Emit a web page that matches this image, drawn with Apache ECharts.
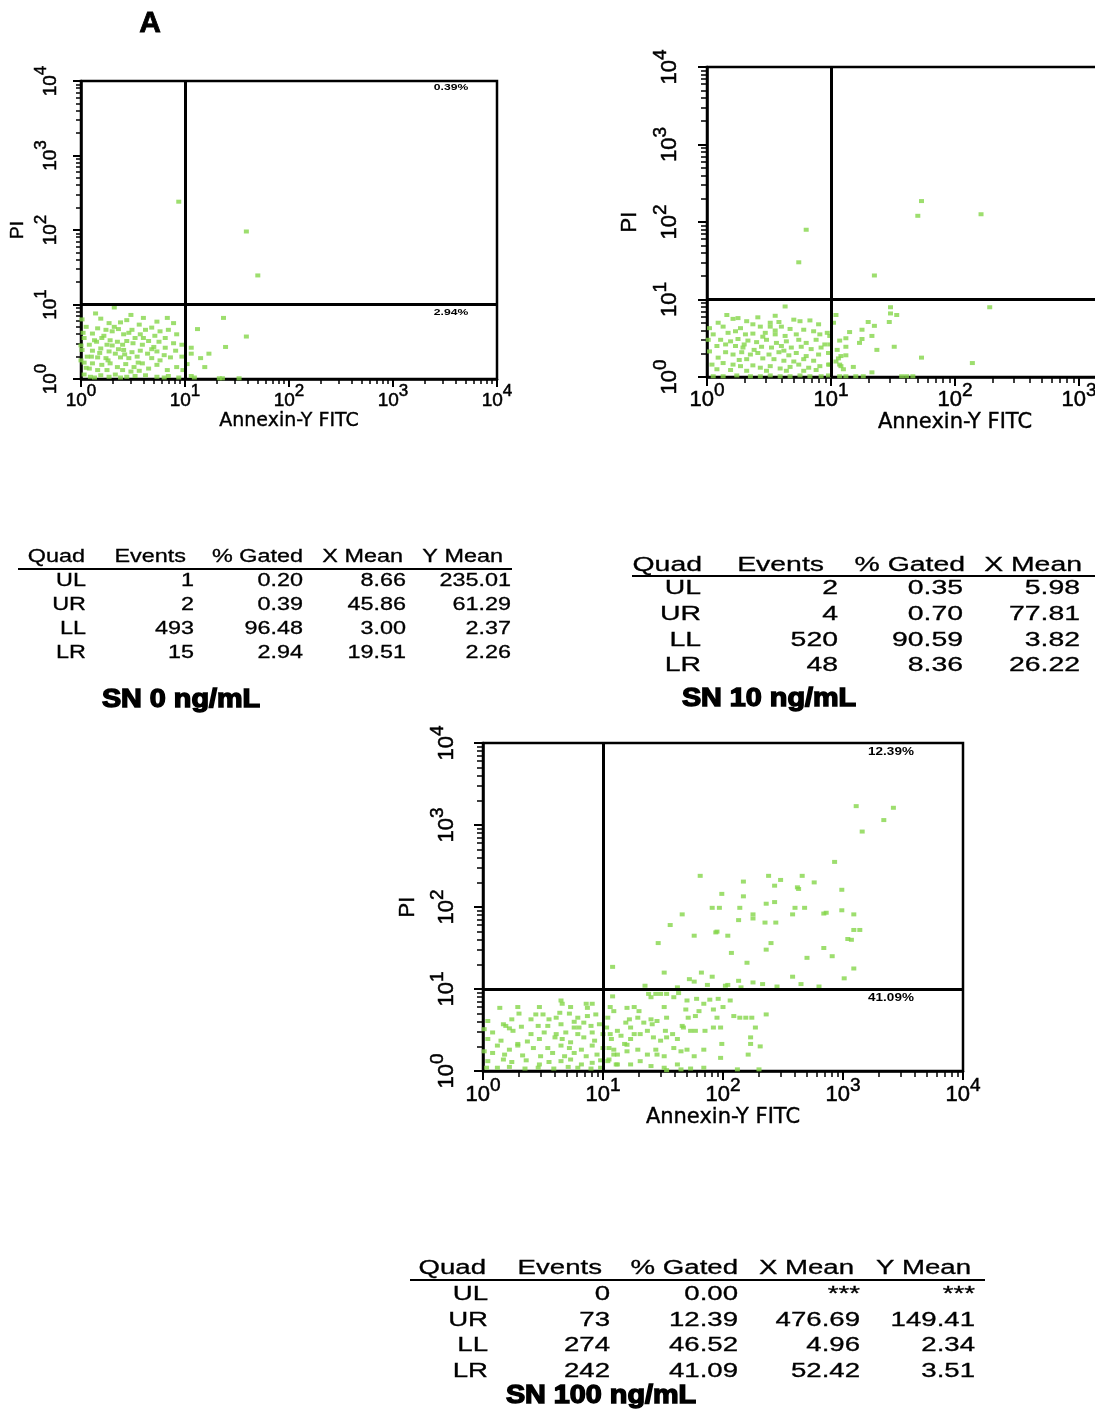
<!DOCTYPE html>
<html><head><meta charset="utf-8">
<script src="https://cdn.jsdelivr.net/npm/echarts@6/dist/echarts.min.js"></script>
<style>html,body{margin:0;padding:0;background:#fff}#c{width:1095px;height:1410px}</style>
</head><body><div id="c"></div>
<script>
// ---- DATA: every point is [log10 Annexin-V FITC, log10 PI] (decades) ----
const sn0_UL = [[0.94,2.38]];
const sn0_UR = [[1.59,1.98],[1.70,1.39]];
const sn0_LR = [[1.37,0.82],[1.12,0.67],[1.59,0.57],[1.39,0.43],[1.23,0.34],[1.15,0.28],[1.19,0.16],[1.06,0.42],[1.06,0.34],[1.33,0.01],[1.36,0.01],[1.52,0.01],[1.06,0.04],[1.09,0.02],[1.02,0.20]];
const sn0_LL = [[0.32,0.96],[0.14,0.88],[0.48,0.86],[0.83,0.82],[0.19,0.81],[0.44,0.79],[0.60,0.82],[0.27,0.75],[0.38,0.76],[0.73,0.77],[0.89,0.75],[0.56,0.73],
[0.05,0.70],[0.16,0.68],[0.24,0.66],[0.30,0.64],[0.36,0.67],[0.49,0.66],[0.62,0.66],[0.68,0.69],[0.76,0.64],[0.84,0.66],[0.92,0.60],[0.11,0.61],[0.41,0.60],[0.57,0.60],[0.71,0.58],
[0.03,0.55],[0.13,0.52],[0.20,0.55],[0.28,0.52],[0.35,0.50],[0.44,0.51],[0.52,0.55],[0.65,0.51],[0.75,0.50],[0.81,0.55],[0.89,0.48],[0.97,0.46],[0.08,0.46],[0.25,0.46],[0.40,0.46],[0.59,0.46],[0.70,0.43],[0.81,0.42],
[0.01,0.39],[0.11,0.38],[0.19,0.41],[0.27,0.37],[0.33,0.34],[0.41,0.39],[0.49,0.36],[0.57,0.38],[0.64,0.34],[0.73,0.37],[0.80,0.32],[0.91,0.38],[0.06,0.30],[0.16,0.29],[0.24,0.28],[0.38,0.29],[0.46,0.28],[0.54,0.30],[0.68,0.28],[0.76,0.25],[0.86,0.29],
[0.03,0.22],[0.11,0.21],[0.20,0.19],[0.28,0.21],[0.35,0.16],[0.43,0.20],[0.51,0.16],[0.59,0.21],[0.65,0.14],[0.73,0.19],[0.83,0.12],[0.92,0.16],[0.08,0.14],[0.16,0.12],[0.25,0.12],[0.40,0.12],[0.48,0.10],[0.56,0.11],
[0.03,0.06],[0.09,0.03],[0.19,0.05],[0.27,0.03],[0.33,0.06],[0.44,0.03],[0.52,0.04],[0.62,0.05],[0.73,0.03],[0.84,0.04],[0.94,0.02],[0.13,0.02],[0.38,0.02],[0.80,0.02],
[0.22,0.58],[0.30,0.45],[0.18,0.35],[0.36,0.40],[0.50,0.48],[0.60,0.55],[0.26,0.25],[0.42,0.33],[0.10,0.30],[0.55,0.22],[0.68,0.40],[0.15,0.50],[0.32,0.70],[0.46,0.62],[0.05,0.15],[0.02,0.62],[0.00,0.45],[0.00,0.25],[0.01,0.80],[0.98,0.12],[0.97,0.30]];

const sn10_UL = [[0.80,1.90],[0.74,1.48]];
const sn10_UR = [[1.73,2.27],[1.70,2.08],[2.21,2.10],[1.35,1.31]];
const sn10_LR = [[1.48,0.90],[1.48,0.82],[1.53,0.80],[1.47,0.71],[1.30,0.71],[1.35,0.66],[1.04,0.80],[1.25,0.61],[1.33,0.53],[1.25,0.49],[1.12,0.50],[1.07,0.47],[1.23,0.44],[1.12,0.39],[1.51,0.39],[1.37,0.35],[1.12,0.28],[1.08,0.27],[1.06,0.24],[1.04,0.20],[1.08,0.14],[1.18,0.13],[1.07,0.16],[1.73,0.25],[2.14,0.18],[2.28,0.90],[1.33,0.06],[1.07,0.01],[1.12,0.01],[1.20,0.01],[1.26,0.01],[1.57,0.01],[1.61,0.01],[1.66,0.01],[0.99,0.53],[0.99,0.42],[0.99,0.16],[1.02,0.70],[1.15,0.58],[1.05,0.35],[1.10,0.10]];
const sn10_LL = [[0.63,0.91],[0.16,0.80],[0.41,0.77],[0.55,0.79],[0.21,0.75],[0.25,0.76],[0.32,0.72],[0.70,0.74],[0.75,0.72],[0.83,0.73],[0.09,0.70],[0.51,0.70],[0.58,0.71],[0.37,0.68],[0.90,0.68],
[0.02,0.63],[0.13,0.65],[0.27,0.63],[0.43,0.65],[0.51,0.65],[0.60,0.65],[0.67,0.62],[0.78,0.61],[0.86,0.59],[0.05,0.55],[0.17,0.57],[0.23,0.59],[0.31,0.55],[0.37,0.56],[0.47,0.57],[0.55,0.55],[0.63,0.53],[0.72,0.55],[0.91,0.55],[0.97,0.57],
[0.01,0.48],[0.11,0.48],[0.19,0.46],[0.25,0.49],[0.33,0.47],[0.40,0.45],[0.48,0.48],[0.56,0.44],[0.64,0.46],[0.74,0.48],[0.80,0.44],[0.88,0.48],[0.95,0.42],[0.08,0.40],[0.23,0.40],[0.29,0.38],[0.44,0.39],[0.52,0.38],[0.60,0.40],[0.68,0.38],[0.76,0.39],[0.84,0.36],[0.92,0.38],
[0.02,0.33],[0.15,0.32],[0.21,0.29],[0.28,0.32],[0.35,0.29],[0.41,0.31],[0.50,0.29],[0.58,0.32],[0.66,0.28],[0.72,0.31],[0.80,0.27],[0.90,0.29],[0.98,0.31],[0.09,0.25],[0.32,0.23],[0.45,0.24],[0.54,0.23],[0.62,0.21],[0.78,0.23],[0.86,0.21],
[0.04,0.16],[0.13,0.18],[0.21,0.16],[0.27,0.14],[0.37,0.15],[0.43,0.12],[0.51,0.14],[0.59,0.11],[0.67,0.13],[0.74,0.16],[0.82,0.12],[0.91,0.14],[0.98,0.16],[0.08,0.10],[0.19,0.09],[0.32,0.08],[0.48,0.08],[0.64,0.08],[0.78,0.08],[0.88,0.09],
[0.05,0.01],[0.13,0.01],[0.24,0.02],[0.35,0.01],[0.43,0.01],[0.51,0.02],[0.59,0.01],[0.67,0.01],[0.75,0.02],[0.83,0.01],[0.92,0.01],[0.98,0.02],
[0.30,0.42],[0.45,0.52],[0.38,0.35],[0.55,0.60],[0.26,0.22],[0.70,0.20],[0.15,0.42],[0.62,0.34]];

const sn100_UL = [];
const sn100_UR = [[3.11,3.23],[3.42,3.21],[3.34,3.06],[3.16,2.92],[2.93,2.55],[1.81,2.38],[2.38,2.38],[2.66,2.38],[2.48,2.33],[2.17,2.31],[2.76,2.30],[2.43,2.26],[2.62,2.24],[2.63,2.22],[2.99,2.21],[1.99,2.16],[2.17,2.13],[2.36,2.04],[2.43,2.06],[1.91,1.99],[1.97,1.99],[2.14,1.99],[2.60,1.99],[2.68,1.99],[2.99,1.96],[2.86,1.93],[2.84,1.92],[3.09,1.91],[2.25,1.91],[2.25,1.86],[2.58,1.91],[1.66,1.91],[2.13,1.84],[2.35,1.81],[2.44,1.81],[1.56,1.78],[1.95,1.70],[1.94,1.69],[3.09,1.72],[3.14,1.72],[1.76,1.65],[2.04,1.65],[3.04,1.61],[3.07,1.60],[1.46,1.56],[2.40,1.56],[2.84,1.50],[2.36,1.48],[2.07,1.44],[2.91,1.40],[2.70,1.38],[2.20,1.32],[1.08,1.27],[1.51,1.20],[1.82,1.20],[1.91,1.15],[2.58,1.15],[3.09,1.25],[3.01,1.13],[1.76,1.09],[2.13,1.10],[2.25,1.08],[1.87,1.05],[2.02,1.04],[2.04,1.05],[2.33,1.06],
[1.62,1.02],[2.45,1.03],[1.72,1.12],[2.80,1.03],[2.15,1.02],[1.35,1.04],[2.65,1.06]];
const sn100_LR = [[1.08,0.91],[1.06,0.78],[1.09,0.73],[1.04,0.65],[1.03,0.53],[1.06,0.45],[1.07,0.39],[1.05,0.28],[1.09,0.20],[1.04,0.12],[1.11,0.08],
[1.20,0.77],[1.26,0.78],[1.30,0.73],[1.22,0.63],[1.19,0.59],[1.23,0.53],[1.29,0.65],[1.34,0.59],[1.40,0.63],[1.41,0.57],[1.45,0.61],
[1.51,0.78],[1.53,0.65],[1.52,0.49],[1.59,0.90],[1.63,0.95],[1.70,0.86],[1.69,0.75],[1.71,0.65],[1.78,0.88],[1.80,0.73],[1.77,0.67],
[1.84,0.82],[1.89,0.87],[1.92,0.75],[1.96,0.88],[1.95,0.65],[1.98,0.53],[2.00,0.78],[2.06,0.86],[2.09,0.67],[2.14,0.65],[2.19,0.65],[2.24,0.65],[2.27,0.53],[2.23,0.41],[2.31,0.30],[2.36,0.69],
[1.12,0.49],[1.15,0.43],[1.18,0.33],[1.20,0.32],[1.23,0.39],[1.26,0.45],[1.31,0.45],[1.37,0.49],[1.42,0.41],[1.48,0.37],[1.53,0.41],[1.58,0.45],[1.62,0.39],[1.66,0.55],[1.67,0.53],[1.73,0.49],[1.77,0.49],[1.85,0.49],[1.92,0.53],[1.99,0.33],
[1.09,0.26],[1.12,0.20],[1.20,0.24],[1.29,0.26],[1.37,0.20],[1.44,0.26],[1.45,0.20],[1.51,0.18],[1.59,0.28],[1.65,0.24],[1.70,0.26],[1.76,0.18],[1.84,0.26],[1.98,0.16],[2.21,0.20],[2.23,0.33],
[1.05,0.14],[1.12,0.08],[1.23,0.08],[1.31,0.12],[1.40,0.06],[1.51,0.04],[1.62,0.08],[1.73,0.03],[1.84,0.04],[2.12,0.02],[2.30,0.02],[1.65,0.02],[1.53,0.01],
[1.38,0.94],[1.44,0.94],[1.48,0.94],[1.53,0.94],[1.40,0.90]];
const sn100_LL = [[0.65,0.86],[0.66,0.82],[0.14,0.77],[0.29,0.78],[0.47,0.78],[0.86,0.82],[0.91,0.82],[0.73,0.78],[0.87,0.77],[0.64,0.71],[0.72,0.70],[0.30,0.70],[0.44,0.69],[0.50,0.69],[0.79,0.65],[0.87,0.67],[0.94,0.69],[0.24,0.63],[0.40,0.63],[0.55,0.63],[0.61,0.65],[0.04,0.61],[0.76,0.60],[0.84,0.59],[0.17,0.57],[0.19,0.55],[0.22,0.52],[0.32,0.54],[0.46,0.55],[0.54,0.55],[0.65,0.57],[0.76,0.53],[0.80,0.53],[0.90,0.55],[0.97,0.57],[0.01,0.51],[0.08,0.47],[0.25,0.49],[0.40,0.45],[0.51,0.47],[0.61,0.45],[0.69,0.47],[0.79,0.45],[0.91,0.47],[1.00,0.45],[0.04,0.39],[0.15,0.37],[0.29,0.33],[0.37,0.36],[0.47,0.39],[0.60,0.41],[0.66,0.39],[0.73,0.35],[0.84,0.41],[0.93,0.37],[0.29,0.31],[0.12,0.31],[0.22,0.26],[0.42,0.28],[0.54,0.28],[0.65,0.31],[0.72,0.28],[0.82,0.26],[0.91,0.31],[1.00,0.28],[0.01,0.24],[0.08,0.22],[0.18,0.20],[0.33,0.19],[0.48,0.18],[0.58,0.22],[0.68,0.18],[0.76,0.22],[0.86,0.18],[0.95,0.20],[0.04,0.12],[0.17,0.14],[0.24,0.11],[0.36,0.13],[0.47,0.08],[0.55,0.11],[0.65,0.12],[0.73,0.14],[0.82,0.08],[0.91,0.10],[0.98,0.13],[0.03,0.04],[0.12,0.04],[0.22,0.05],[0.35,0.03],[0.46,0.04],[0.59,0.03],[0.71,0.05],[0.79,0.04],[0.90,0.03],[0.98,0.04]];

// gate position (log10) and axis decades
const GATE_LOG = 1;
const DECADES = [0, 1, 2, 3, 4];
const X_TITLE = 'Annexin-Y FITC';
const Y_TITLE = 'PI';

// tables
const tableHeader = ['Quad', 'Events', '% Gated', 'X Mean', 'Y Mean'];
const quadrants = ['UL', 'UR', 'LL', 'LR'];
const sn0Events = ['1', '2', '493', '15'];
const sn0Gated = ['0.20', '0.39', '96.48', '2.94'];
const sn0XMean = ['8.66', '45.86', '3.00', '19.51'];
const sn0YMean = ['235.01', '61.29', '2.37', '2.26'];
const sn10Events = ['2', '4', '520', '48'];
const sn10Gated = ['0.35', '0.70', '90.59', '8.36'];
const sn10XMean = ['5.98', '77.81', '3.82', '26.22'];
const sn100Events = ['0', '73', '274', '242'];
const sn100Gated = ['0.00', '12.39', '46.52', '41.09'];
const sn100XMean = ['***', '476.69', '4.96', '52.42'];
const sn100YMean = ['***', '149.41', '2.34', '3.51'];
const panelTitles = ['SN 0 ng/mL', 'SN 10 ng/mL', 'SN 100 ng/mL'];
const figureLetter = 'A';

// ---- rendering ----
const FONT = "'Liberation Sans', Arial, sans-serif";
const GREEN = '#84d64a';
const MINOR = [];
for (let d = 0; d < 4; d++) for (let k = 2; k <= 9; k++) MINOR.push(d + Math.log10(k));

const panels = [
  { grid: {left: 81, top: 81, width: 416, height: 298},
    pts: [].concat(sn0_LL, sn0_LR, sn0_UL, sn0_UR),
    lab: 19, exp: 17, xMargin: 4, yMargin: 21, nameFont: 19, xNameGap: 27, yNameGap: 54, tickLen: 8, minorLen: 5 },
  { grid: {left: 707, top: 67, width: 496, height: 310},
    pts: [].concat(sn10_LL, sn10_LR, sn10_UL, sn10_UR),
    lab: 22, exp: 19, xMargin: 4, yMargin: 26, nameFont: 21, xNameGap: 29, yNameGap: 66, tickLen: 9, minorLen: 6 },
  { grid: {left: 483, top: 743, width: 480, height: 328},
    pts: [].concat(sn100_LL, sn100_LR, sn100_UL, sn100_UR),
    lab: 22, exp: 19, xMargin: 5, yMargin: 25, nameFont: 21, xNameGap: 31, yNameGap: 64, tickLen: 9, minorLen: 6 }
];

const grids = [], xAxes = [], yAxes = [], series = [];
panels.forEach((p, gi) => {
  grids.push(Object.assign({show: true, borderColor: '#000', borderWidth: 2.5, backgroundColor: 'transparent',
    containLabel: false, outerBoundsMode: 'none'}, p.grid));
  const rich = {
    b: {fontSize: p.lab, fontFamily: FONT, color: '#000', verticalAlign: 'bottom', lineHeight: p.lab + 8,
        textBorderColor: '#000', textBorderWidth: 0.5},
    e: {fontSize: p.exp, fontFamily: FONT, color: '#000', verticalAlign: 'top', lineHeight: p.lab + 8,
        textBorderColor: '#000', textBorderWidth: 0.5}
  };
  ['x', 'y'].forEach(dim => {
    const isX = dim === 'x';
    const primary = {
      type: 'value', gridIndex: gi, min: 0, max: 4, interval: 1,
      position: isX ? 'bottom' : 'left',
      axisLine: {show: true, onZero: false, lineStyle: {color: '#000', width: 2.5}},
      axisTick: {show: true, length: p.tickLen, lineStyle: {color: '#000', width: 2}},
      splitLine: {show: false},
      axisLabel: {margin: isX ? p.xMargin : p.yMargin, rotate: isX ? 0 : 90,
        formatter: v => '{b|10}{e|' + DECADES[Math.round(v)] + '}', rich: rich},
      name: isX ? X_TITLE : Y_TITLE, nameLocation: 'middle',
      nameGap: isX ? p.xNameGap : p.yNameGap,
      nameTextStyle: isX ? {fontSize: p.nameFont, fontFamily: "'DejaVu Sans', sans-serif", color: '#000', textBorderColor: '#000', textBorderWidth: 0.4}
                         : {fontSize: p.lab, fontFamily: FONT, color: '#000', textBorderColor: '#000', textBorderWidth: 0.4}
    };
    const minor = {
      type: 'value', gridIndex: gi, min: 0, max: 4,
      position: isX ? 'bottom' : 'left',
      axisLine: {show: false, onZero: false},
      axisTick: {show: true, length: p.minorLen, customValues: MINOR, lineStyle: {color: '#000', width: 1.5}},
      axisLabel: {show: false}, splitLine: {show: false}
    };
    (isX ? xAxes : yAxes).push(primary, minor);
  });
  series.push({
    type: 'scatter', xAxisIndex: gi * 2, yAxisIndex: gi * 2,
    data: p.pts, symbol: 'rect', symbolSize: [5, 4],
    itemStyle: {color: GREEN}, silent: true, animation: false, clip: false,
    markLine: {silent: true, animation: false, symbol: ['none', 'none'], label: {show: false},
      lineStyle: {color: '#000', width: 3, type: 'solid'},
      emphasis: {disabled: true},
      data: [{xAxis: GATE_LOG}, {yAxis: GATE_LOG}]}
  });
});

// graphic texts
const G = [];
function txt(text, x, y, size, opts) {
  opts = opts || {};
  const st = {text: text, fill: '#000', font: (opts.weight || 'normal') + ' ' + size + 'px ' + (opts.family || FONT),
    align: opts.align || 'right', textAlign: opts.align || 'right', verticalAlign: 'middle', textVerticalAlign: 'middle'};
  if (opts.stroke) { st.stroke = '#000'; st.lineWidth = opts.stroke; }
  G.push({type: 'text', x: x, y: y, scaleX: opts.sx || 1, style: st, silent: true});
}
function table(cols, L) {
  cols.forEach((col, ci) => {
    txt(col[0], L.headerRight[ci], L.headerY, L.size, {sx: L.sx, stroke: 0.3});
    for (let r = 1; r < col.length; r++) txt(col[r], L.valueRight[ci], L.rowY[r - 1], L.size, {sx: L.sx, stroke: 0.3});
  });
  G.push({type: 'line', shape: {x1: L.line[0], y1: L.line[2], x2: L.line[1], y2: L.line[2]},
    style: {stroke: '#000', lineWidth: 2}, silent: true});
}
table([[tableHeader[0]].concat(quadrants), [tableHeader[1]].concat(sn0Events), [tableHeader[2]].concat(sn0Gated),
       [tableHeader[3]].concat(sn0XMean), [tableHeader[4]].concat(sn0YMean)],
  {size: 18, sx: 1.3, headerY: 557, rowY: [581, 605, 629, 653], line: [18, 512, 569],
   headerRight: [85, 186, 303, 403, 503], valueRight: [86, 194, 303, 406, 511]});
table([[tableHeader[0]].concat(quadrants), [tableHeader[1]].concat(sn10Events), [tableHeader[2]].concat(sn10Gated),
       [tableHeader[3]].concat(sn10XMean)],
  {size: 20, sx: 1.42, headerY: 565, rowY: [588, 614, 640, 665], line: [632, 1095, 576],
   headerRight: [702, 824, 965, 1082], valueRight: [701, 838, 963, 1080]});
table([[tableHeader[0]].concat(quadrants), [tableHeader[1]].concat(sn100Events), [tableHeader[2]].concat(sn100Gated),
       [tableHeader[3]].concat(sn100XMean), [tableHeader[4]].concat(sn100YMean)],
  {size: 20, sx: 1.38, headerY: 1268, rowY: [1294, 1320, 1345, 1371], line: [410, 985, 1280],
   headerRight: [486, 602, 738, 854, 971], valueRight: [488, 610, 738, 860, 975]});

// panel titles
txt(panelTitles[0], 181, 700, 25, {align: 'center', weight: 'bold', sx: 1.15, stroke: 1.4});
txt(panelTitles[1], 769, 699, 25, {align: 'center', weight: 'bold', sx: 1.15, stroke: 1.4});
txt(panelTitles[2], 601, 1396, 25, {align: 'center', weight: 'bold', sx: 1.15, stroke: 1.4});
txt(figureLetter, 150, 24, 30, {align: 'center', weight: 'bold', stroke: 0.8});

// quadrant percentages
txt(sn0Gated[1] + '%', 451, 88, 9, {align: 'center', weight: 'bold', sx: 1.35});
txt(sn0Gated[3] + '%', 451, 313, 9, {align: 'center', weight: 'bold', sx: 1.35});
txt(sn100Gated[1] + '%', 891, 752, 10, {align: 'center', weight: 'bold', sx: 1.35});
txt(sn100Gated[3] + '%', 891, 998, 10, {align: 'center', weight: 'bold', sx: 1.35});

const chart = echarts.init(document.getElementById('c'), null, {renderer: 'canvas'});
chart.setOption({
  animation: false,
  backgroundColor: '#fff',
  grid: grids, xAxis: xAxes, yAxis: yAxes, series: series,
  graphic: {elements: G}
});
</script></body></html>
